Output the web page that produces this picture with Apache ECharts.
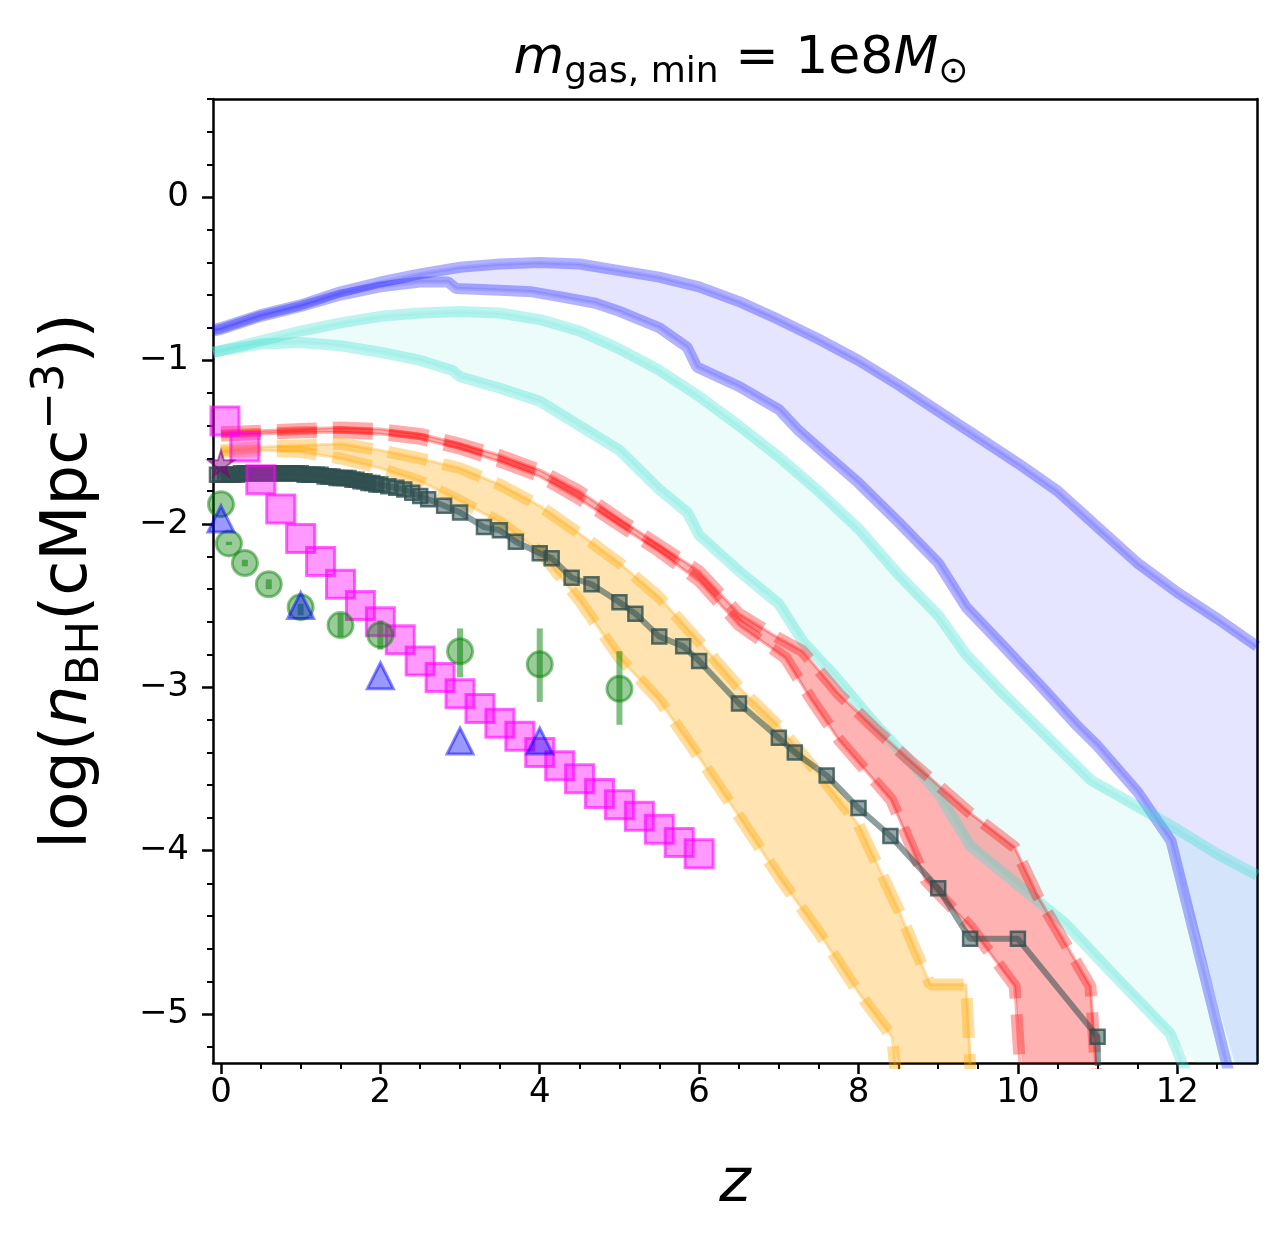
<!DOCTYPE html>
<html>
<head>
<meta charset="utf-8">
<script src="https://cdn.jsdelivr.net/npm/echarts@6/dist/echarts.min.js"></script>
<style>
html, body { margin: 0; padding: 0; background: #fff; }
#chart { width: 1287px; height: 1239px; }
</style>
</head>
<body>
<div id="chart"></div>
<script>
// ---- data: [z, log n_BH] ----
var blueUpper = [[-0.1,-0.81],[0,-0.80],[0.5,-0.72],[1,-0.66],[1.5,-0.58],[2,-0.52],[2.5,-0.47],[3,-0.43],[3.5,-0.41],[4,-0.40],[4.5,-0.41],[5,-0.45],[5.5,-0.49],[6,-0.55],[6.5,-0.64],[7,-0.75],[7.5,-0.87],[8,-1.00],[8.5,-1.15],[9,-1.31],[9.5,-1.47],[10,-1.63],[10.5,-1.80],[11,-2.02],[11.5,-2.24],[12,-2.42],[12.5,-2.58],[13,-2.75]];
var blueLower = [[-0.1,-0.82],[0,-0.81],[0.5,-0.73],[1,-0.67],[1.5,-0.60],[2,-0.55],[2.5,-0.52],[2.85,-0.52],[2.95,-0.56],[3.5,-0.57],[3.9,-0.58],[4.25,-0.61],[4.7,-0.65],[5,-0.70],[5.5,-0.80],[5.85,-0.92],[5.97,-1.04],[6.5,-1.16],[7,-1.30],[7.25,-1.43],[7.6,-1.58],[8,-1.75],[8.5,-1.99],[9,-2.24],[9.35,-2.51],[9.8,-2.74],[10.3,-3.00],[10.75,-3.24],[11,-3.36],[11.5,-3.64],[11.92,-3.94],[12.72,-5.5],[13.3,-5.5]];
var cyanUpper = [[-0.1,-0.95],[0,-0.94],[0.5,-0.88],[1,-0.82],[1.5,-0.77],[2,-0.73],[2.5,-0.71],[3,-0.70],[3.5,-0.71],[4,-0.75],[4.5,-0.82],[5,-0.93],[5.5,-1.06],[6,-1.22],[6.5,-1.40],[7,-1.59],[7.5,-1.80],[8,-2.03],[8.5,-2.31],[9,-2.56],[9.35,-2.80],[9.8,-3.03],[10.3,-3.27],[10.92,-3.57],[11.5,-3.73],[12,-3.87],[12.5,-4.02],[13,-4.15]];
var cyanLower = [[-0.1,-0.95],[0,-0.94],[0.5,-0.90],[1,-0.89],[1.5,-0.91],[2,-0.95],[2.5,-1.00],[2.9,-1.06],[3,-1.10],[3.5,-1.17],[4,-1.25],[4.5,-1.40],[5,-1.55],[5.5,-1.79],[5.85,-1.93],[6,-2.07],[6.5,-2.29],[7,-2.49],[7.3,-2.72],[7.7,-2.93],[8.2,-3.22],[8.6,-3.43],[9,-3.65],[9.4,-3.97],[10,-4.21],[10.6,-4.45],[11.2,-4.76],[11.91,-5.12],[12.23,-5.5],[13.3,-5.5]];
var redUpper = [[0,-1.44],[0.5,-1.43],[1,-1.42],[1.5,-1.41],[2,-1.42],[2.5,-1.45],[3,-1.51],[3.5,-1.58],[4,-1.67],[4.5,-1.80],[5,-1.97],[5.5,-2.13],[6,-2.29],[6.5,-2.55],[7,-2.70],[7.3,-2.78],[7.75,-3.04],[8.2,-3.25],[8.6,-3.43],[9,-3.60],[9.4,-3.77],[9.96,-3.98],[10.25,-4.28],[10.91,-4.83],[11.0,-5.5]];
var redLower = [[0,-1.46],[0.5,-1.45],[1,-1.44],[1.5,-1.44],[2,-1.45],[2.5,-1.48],[3,-1.54],[3.5,-1.62],[4,-1.71],[4.5,-1.85],[5,-2.01],[5.5,-2.17],[6,-2.35],[6.5,-2.62],[7.08,-2.82],[7.4,-3.07],[7.75,-3.32],[8.41,-3.69],[8.84,-4.18],[9.41,-4.47],[9.96,-4.83],[10.05,-5.5]];
var orangeUpper = [[0,-1.55],[0.5,-1.53],[1,-1.52],[1.5,-1.51],[2,-1.55],[2.5,-1.60],[3,-1.66],[3.5,-1.76],[4,-1.89],[4.5,-2.06],[5,-2.24],[5.5,-2.45],[6,-2.72],[6.5,-3.00],[7,-3.24],[7.5,-3.53],[8,-3.84],[8.5,-4.36],[8.9,-4.82],[9.35,-4.82],[9.42,-5.5]];
var orangeLower = [[0,-1.56],[0.5,-1.55],[1,-1.56],[1.5,-1.60],[2,-1.66],[2.5,-1.74],[3,-1.86],[3.5,-1.99],[4,-2.17],[4.5,-2.47],[5,-2.82],[5.5,-3.08],[6,-3.43],[6.5,-3.79],[7,-4.16],[7.5,-4.50],[8,-4.87],[8.42,-5.14],[8.5,-5.5]];
var simPoints = [[-0.05,-1.70],[0,-1.70],[0.05,-1.70],[0.1,-1.70],[0.15,-1.70],[0.2,-1.70],[0.25,-1.69],[0.3,-1.69],[0.35,-1.69],[0.4,-1.69],[0.45,-1.69],[0.5,-1.69],[0.55,-1.69],[0.6,-1.69],[0.65,-1.69],[0.7,-1.69],[0.75,-1.69],[0.8,-1.69],[0.85,-1.69],[0.9,-1.69],[0.95,-1.69],[1.0,-1.69],[1.05,-1.70],[1.1,-1.70],[1.15,-1.70],[1.2,-1.70],[1.25,-1.70],[1.3,-1.71],[1.35,-1.71],[1.4,-1.71],[1.45,-1.72],[1.5,-1.72],[1.55,-1.72],[1.6,-1.72],[1.65,-1.73],[1.7,-1.73],[1.75,-1.74],[1.8,-1.74],[1.85,-1.75],[1.9,-1.75],[1.95,-1.76],[2.0,-1.76],[2.1,-1.77],[2.2,-1.78],[2.3,-1.79],[2.4,-1.81],[2.5,-1.83],[2.6,-1.85],[2.8,-1.89],[3.0,-1.93],[3.3,-2.02],[3.5,-2.04],[3.7,-2.11],[4.0,-2.18],[4.15,-2.21],[4.4,-2.33],[4.65,-2.37],[5.0,-2.48],[5.2,-2.55],[5.5,-2.69],[5.8,-2.75],[6.0,-2.84],[6.5,-3.10],[7.0,-3.31],[7.2,-3.40],[7.6,-3.54],[8.0,-3.74],[8.4,-3.91],[9.0,-4.23],[9.4,-4.54],[10.0,-4.54],[11.0,-5.14],[11.05,-7]];
var magentaPoints = [[0.05,-1.37],[0.3,-1.53],[0.5,-1.73],[0.75,-1.91],[1.0,-2.09],[1.25,-2.23],[1.5,-2.37],[1.75,-2.50],[2.0,-2.60],[2.25,-2.71],[2.5,-2.84],[2.75,-2.94],[3.0,-3.04],[3.25,-3.13],[3.5,-3.22],[3.75,-3.30],[4.0,-3.40],[4.25,-3.48],[4.5,-3.56],[4.75,-3.65],[5.0,-3.72],[5.25,-3.79],[5.5,-3.87],[5.75,-3.95],[6.0,-4.02]];
var greenPoints = [[0,-1.88],[0.1,-2.12],[0.3,-2.24],[0.6,-2.37],[1.0,-2.51],[1.5,-2.62],[2.0,-2.68],[3.0,-2.78],[4.0,-2.86],[5.0,-3.01]];
// [z, low, high]
var greenErrors = [[0.1,-2.13,-2.11],[0.3,-2.26,-2.22],[0.6,-2.40,-2.34],[1.0,-2.56,-2.49],[1.5,-2.69,-2.55],[2.0,-2.77,-2.59],[3.0,-2.94,-2.64],[4.0,-3.09,-2.64],[5.0,-3.23,-2.78]];
var trianglePoints = [[0,-1.97],[1.0,-2.50],[2.0,-2.93],[3.0,-3.33],[4.0,-3.33]];
var starPoints = [[0,-1.63]];

var xMajor = [0, 2, 4, 6, 8, 10, 12];
var xMinor = [0.5, 1, 1.5, 2.5, 3, 3.5, 4.5, 5, 5.5, 6.5, 7, 7.5, 8.5, 9, 9.5, 10.5, 11, 11.5, 12.5];
var yMajor = [-5, -4, -3, -2, -1, 0];
var yMinor = [-5.2, -4.8, -4.6, -4.4, -4.2, -3.8, -3.6, -3.4, -3.2, -2.8, -2.6, -2.4, -2.2, -1.8, -1.6, -1.4, -1.2, -0.8, -0.6, -0.4, -0.2, 0.2, 0.4, 0.6];

var FONT = 'DejaVu Sans';

var fmt = function (v) {
	return v < 0 ? '\u2212' + Math.abs(v) : String(v);
};

var bandFill = function (upper, lower, color) {
	return {
		type: 'custom',
		silent: true,
		data: [[0, 0]],
		z: 1,
		renderItem: function (params, api) {
			var pts = upper.map(function (p) { return api.coord(p); })
				.concat(lower.slice().reverse().map(function (p) { return api.coord(p); }));
			var cs = params.coordSys;
			pts = echarts.graphic.clipPointsByRect(pts, { x: cs.x, y: cs.y, width: cs.width, height: cs.height });
			return { type: 'polygon', shape: { points: pts }, style: { fill: color } };
		}
	};
};

var edgeLine = function (data, color, width, dash) {
	return {
		type: 'line',
		data: data,
		symbol: 'none',
		silent: true,
		clip: true,
		z: 2,
		lineStyle: { color: color, width: width, type: dash || 'solid', cap: 'butt' }
	};
};

var series = [
	bandFill(blueUpper, blueLower, 'rgba(0,0,255,0.1)'),
	edgeLine(blueUpper, 'rgba(0,0,255,0.3)', 11),
	edgeLine(blueLower, 'rgba(0,0,255,0.3)', 11),
	edgeLine(blueUpper, 'rgba(0,0,255,0.1)', 3.5),
	edgeLine(blueLower, 'rgba(0,0,255,0.1)', 3.5),

	bandFill(cyanUpper, cyanLower, 'rgba(64,224,208,0.1)'),
	edgeLine(cyanUpper, 'rgba(64,224,208,0.35)', 11),
	edgeLine(cyanLower, 'rgba(64,224,208,0.35)', 11),
	edgeLine(cyanUpper, 'rgba(64,224,208,0.1)', 3.5),
	edgeLine(cyanLower, 'rgba(64,224,208,0.1)', 3.5),

	bandFill(redUpper, redLower, 'rgba(255,0,0,0.3)'),
	edgeLine(redUpper, 'rgba(255,0,0,0.33)', 12, [40, 16]),
	edgeLine(redLower, 'rgba(255,0,0,0.33)', 12, [40, 16]),
	edgeLine(redUpper, 'rgba(255,0,0,0.3)', 3),
	edgeLine(redLower, 'rgba(255,0,0,0.3)', 3),

	bandFill(orangeUpper, orangeLower, 'rgba(255,165,0,0.3)'),
	edgeLine(orangeUpper, 'rgba(255,165,0,0.38)', 12, [40, 16]),
	edgeLine(orangeLower, 'rgba(255,165,0,0.38)', 12, [40, 16]),
	edgeLine(orangeUpper, 'rgba(255,165,0,0.3)', 3),
	edgeLine(orangeLower, 'rgba(255,165,0,0.3)', 3),

	{
		type: 'line',
		data: simPoints,
		symbol: 'rect',
		symbolSize: 14,
		clip: true,
		z: 4,
		lineStyle: { color: 'rgba(47,79,79,0.55)', width: 6 },
		itemStyle: { color: 'rgba(47,79,79,0.5)', borderColor: 'rgba(47,79,79,0.8)', borderWidth: 2.5 }
	},
	{
		type: 'scatter',
		data: magentaPoints,
		symbol: 'rect',
		symbolSize: 28,
		z: 5,
		itemStyle: { color: 'rgba(255,0,255,0.5)', borderColor: 'rgba(255,0,255,0.75)', borderWidth: 3 }
	},
	{
		type: 'custom',
		data: greenErrors,
		z: 5,
		renderItem: function (params, api) {
			var a = api.coord([api.value(0), api.value(1)]);
			var b = api.coord([api.value(0), api.value(2)]);
			return { type: 'line', shape: { x1: a[0], y1: a[1], x2: b[0], y2: b[1] },
				style: { stroke: 'rgba(0,128,0,0.5)', lineWidth: 6 } };
		}
	},
	{
		type: 'scatter',
		data: greenPoints,
		symbol: 'circle',
		symbolSize: 25,
		z: 6,
		itemStyle: { color: 'rgba(0,128,0,0.5)', borderColor: 'rgba(0,128,0,0.6)', borderWidth: 3 }
	},
	{
		type: 'scatter',
		data: trianglePoints,
		symbol: 'triangle',
		symbolSize: 26,
		z: 6,
		itemStyle: { color: 'rgba(0,0,255,0.5)', borderColor: 'rgba(0,0,255,0.6)', borderWidth: 3 }
	},
	{
		type: 'scatter',
		data: starPoints,
		symbol: 'path://M50,0 L61,35 L98,35 L68,57 L79,91 L50,70 L21,91 L32,57 L2,35 L39,35 Z',
		symbolSize: 26,
		z: 6,
		itemStyle: { color: 'rgba(128,0,128,0.6)', borderColor: 'rgba(128,0,128,0.7)', borderWidth: 2 }
	}
];

var chart = echarts.init(document.getElementById('chart'));
var option = {
	animation: false,
	backgroundColor: '#fff',
	title: {
		text: '{i|m}{s|gas, min}{n| = 1e8}{i|M}{s|\u2299}',
		left: 736,
		textAlign: 'center',
		top: 22,
		textStyle: {
			fontWeight: 'normal',
			rich: {
				i: { fontFamily: FONT, fontStyle: 'italic', fontWeight: 'normal', fontSize: 52, lineHeight: 64, color: '#000' },
				n: { fontFamily: FONT, fontWeight: 'normal', fontSize: 52, lineHeight: 64, color: '#000' },
				s: { fontFamily: FONT, fontWeight: 'normal', fontSize: 36, lineHeight: 36, verticalAlign: 'bottom', color: '#000' }
			}
		}
	},
	grid: { left: 213, right: 30, top: 99, bottom: 176 },
	xAxis: [
		{
			type: 'value', min: -0.1, max: 13,
			axisLine: { show: true, onZero: false, lineStyle: { color: '#000', width: 2.5 } },
			axisTick: { show: true, customValues: xMajor, length: 11, lineStyle: { color: '#000', width: 2.5 } },
			axisLabel: { customValues: xMajor, formatter: fmt, fontSize: 34, fontFamily: FONT, color: '#000', margin: 13 },
			splitLine: { show: false },
			name: 'z', nameLocation: 'middle', nameGap: 92,
			nameTextStyle: { fontFamily: FONT, fontStyle: 'italic', fontSize: 60, color: '#000' }
		},
		{
			type: 'value', min: -0.1, max: 13, position: 'bottom',
			axisLine: { show: false, onZero: false },
			axisTick: { show: true, customValues: xMinor, length: 6, lineStyle: { color: '#000', width: 2 } },
			axisLabel: { show: false },
			splitLine: { show: false }
		},
		{
			type: 'value', min: -0.1, max: 13, position: 'top',
			axisLine: { show: true, onZero: false, lineStyle: { color: '#000', width: 2.5 } },
			axisTick: { show: false }, axisLabel: { show: false }, splitLine: { show: false }
		}
	],
	yAxis: [
		{
			type: 'value', min: -5.3, max: 0.6,
			axisLine: { show: true, onZero: false, lineStyle: { color: '#000', width: 2.5 } },
			axisTick: { show: true, customValues: yMajor, length: 11, lineStyle: { color: '#000', width: 2.5 } },
			axisLabel: { customValues: yMajor, formatter: fmt, fontSize: 34, fontFamily: FONT, color: '#000', margin: 24 },
			splitLine: { show: false },
			name: '{n|log(}{i|n}{s|BH}{n|(cMpc}{p|\u22123}{n|))}',
			nameLocation: 'middle', nameGap: 104, nameRotate: 90,
			nameTextStyle: {
				rich: {
					n: { fontFamily: FONT, fontSize: 64, lineHeight: 80, color: '#000' },
					i: { fontFamily: FONT, fontStyle: 'italic', fontSize: 64, lineHeight: 80, color: '#000' },
					s: { fontFamily: FONT, fontSize: 45, lineHeight: 45, verticalAlign: 'bottom', color: '#000' },
					p: { fontFamily: FONT, fontSize: 45, lineHeight: 45, verticalAlign: 'top', color: '#000' }
				}
			}
		},
		{
			type: 'value', min: -5.3, max: 0.6, position: 'left',
			axisLine: { show: false, onZero: false },
			axisTick: { show: true, customValues: yMinor, length: 6, lineStyle: { color: '#000', width: 2 } },
			axisLabel: { show: false },
			splitLine: { show: false }
		},
		{
			type: 'value', min: -5.3, max: 0.6, position: 'right',
			axisLine: { show: true, onZero: false, lineStyle: { color: '#000', width: 2.5 } },
			axisTick: { show: false }, axisLabel: { show: false }, splitLine: { show: false }
		}
	],
	series: series
};
chart.setOption(option);
</script>
</body>
</html>
